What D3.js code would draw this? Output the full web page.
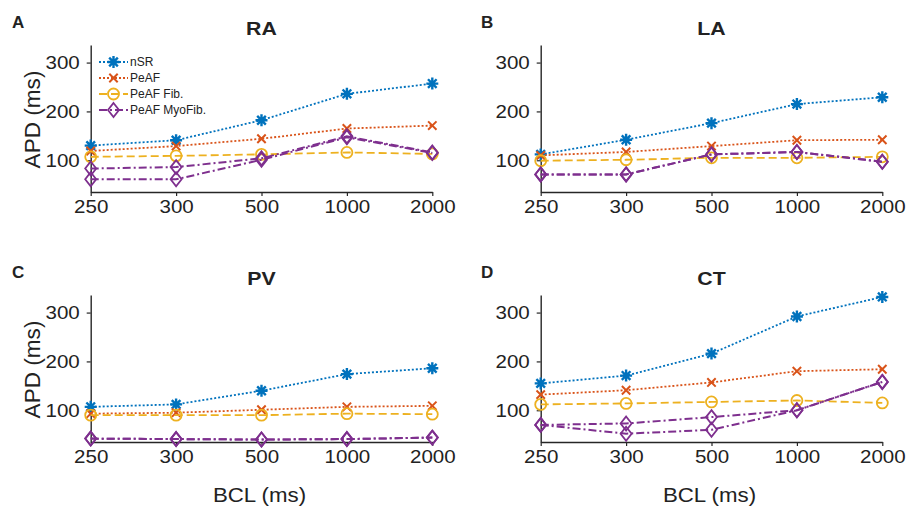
<!DOCTYPE html>
<html>
<head>
<meta charset="utf-8">
<script src="https://cdn.jsdelivr.net/npm/d3@7"></script>
<style>
  body { margin: 0; background: #fff; }
  svg { display: block; }
  text { font-family: "Liberation Sans", Arial, Helvetica, sans-serif; fill: #222; }
</style>
</head>
<body>
<svg id="chart" width="907" height="506"></svg>
<script>
// Basic cycle lengths (categorical x axis) and APD ticks
const bcl = ["250", "300", "500", "1000", "2000"];
const yTickValues = [100, 200, 300];
const regions = ["RA", "LA", "PV", "CT"];
const panelLetters = ["A", "B", "C", "D"];
const seriesNames = ["nSR", "PeAF", "PeAF Fib.", "PeAF MyoFib."];

// APD (ms) per region, rows in the order RA, LA, PV, CT; one value per BCL
const apdNSR = [
  [130, 141, 182, 236, 257],
  [112, 142, 176, 215, 229],
  [107, 112, 140, 174, 186],
  [155, 171, 216, 292, 332]
];
const apdPeAF = [
  [119, 129, 144, 165, 171],
  [110, 117, 129, 141, 142],
  [93, 95, 101, 107, 109],
  [132, 141, 157, 180, 184]
];
const apdFib = [
  [107, 109, 112, 116, 113],
  [99, 101, 105, 105, 107],
  [90, 90, 90, 93, 92],
  [112, 114, 117, 120, 115]
];
const apdMyoFibA = [
  [83, 86, 104, 149, 116],
  [71, 71, 112, 117, 97],
  [42, 41, 40, 41, 44],
  [70, 73, 86, 100, 158]
];
const apdMyoFibB = [
  [61, 61, 101, 147, 115],
  [71, 71, 112, 117, 97],
  [42, 41, 40, 41, 44],
  [70, 52, 60, 100, 158]
];

const colors = { nSR: "#0072BD", PeAF: "#D95319", Fib: "#EDB120", Myo: "#7E2F8E" };
const styles = [
  { key: "nSR", color: colors.nSR, dash: "2,2", marker: "star" },
  { key: "PeAF", color: colors.PeAF, dash: "2,2", marker: "cross" },
  { key: "Fib", color: colors.Fib, dash: "8,4", marker: "circle" },
  { key: "Myo", color: colors.Myo, dash: "8,3,2,3", marker: "diamond" }
];

const svg = d3.select("#chart");

// Panel geometry: two columns, two rows
const colX = [[90.7, 432.3], [540.7, 882.3]];
const rowY = [[192, 45], [442, 295]];

// widen text slightly, keeping its anchor
function stretch(sel, k) {
  sel.each(function () {
    const w = this.getComputedTextLength();
    d3.select(this).attr("textLength", w * k).attr("lengthAdjust", "spacingAndGlyphs");
  });
}

function drawMarker(g, type, x, y, color) {
  if (type === "star") {
    const r = 6;
    const d = r * 0.72;
    g.append("path")
      .attr("d", `M${x - r},${y}L${x + r},${y}M${x},${y - r}L${x},${y + r}` +
                 `M${x - d},${y - d}L${x + d},${y + d}M${x - d},${y + d}L${x + d},${y - d}`)
      .attr("stroke", color).attr("stroke-width", 2.4).attr("fill", "none");
  } else if (type === "cross") {
    const r = 4.2;
    g.append("path")
      .attr("d", `M${x - r},${y - r}L${x + r},${y + r}M${x - r},${y + r}L${x + r},${y - r}`)
      .attr("stroke", color).attr("stroke-width", 2).attr("fill", "none");
  } else if (type === "circle") {
    g.append("circle").attr("cx", x).attr("cy", y).attr("r", 5.5)
      .attr("stroke", color).attr("stroke-width", 1.8).attr("fill", "none");
  } else if (type === "diamond") {
    const w = 5.5, h = 7;
    g.append("path")
      .attr("d", `M${x},${y - h}L${x + w},${y}L${x},${y + h}L${x - w},${y}Z`)
      .attr("stroke", color).attr("stroke-width", 1.8).attr("fill", "none");
  }
}

regions.forEach((region, i) => {
  const col = i % 2, row = Math.floor(i / 2);
  const x = d3.scalePoint().domain(bcl).range(colX[col]);
  const y = d3.scaleLinear().domain([35, 336]).range(rowY[row]);
  const g = svg.append("g");

  // axes
  const yAxis = g.append("g")
    .attr("transform", `translate(${colX[col][0]},0)`)
    .call(d3.axisLeft(y).tickValues(yTickValues).tickSize(4).tickSizeOuter(0).tickPadding(7));
  const xAxis = g.append("g")
    .attr("transform", `translate(0,${rowY[row][0]})`)
    .call(d3.axisBottom(x).tickSize(4).tickSizeOuter(0).tickPadding(4));
  [yAxis, xAxis].forEach(a => {
    a.select(".domain").attr("stroke", "#262626").attr("stroke-width", 1.4);
    a.selectAll(".tick line").attr("stroke", "#262626").attr("stroke-width", 1.2);
    a.selectAll(".tick text").style("font-size", "19px").attr("fill", "#222").call(stretch, 1.08);
  });

  // title and panel letter
  g.append("text")
    .attr("x", (colX[col][0] + colX[col][1]) / 2).attr("y", rowY[row][1] - 10)
    .attr("text-anchor", "middle").style("font-size", "18.5px").style("font-weight", "bold")
    .text(region).call(stretch, 1.15);
  g.append("text")
    .attr("x", col === 0 ? 12 : 481).attr("y", rowY[row][1] - 17)
    .style("font-size", "17px").style("font-weight", "bold")
    .text(panelLetters[i]);

  if (col === 0) {
    g.append("text")
      .attr("transform", `translate(40,${(rowY[row][0] + rowY[row][1]) / 2 + 1}) rotate(-90)`)
      .attr("text-anchor", "middle").style("font-size", "21.5px")
      .text("APD (ms)").call(stretch, 1.05);
  }
  if (row === 1) {
    g.append("text")
      .attr("x", (colX[col][0] + colX[col][1]) / 2 - 2).attr("y", 502)
      .attr("text-anchor", "middle").style("font-size", "21px")
      .text("BCL (ms)").call(stretch, 1.06);
  }

  const seriesData = [
    { style: styles[0], values: apdNSR[i] },
    { style: styles[1], values: apdPeAF[i] },
    { style: styles[2], values: apdFib[i] },
    { style: styles[3], values: apdMyoFibA[i] },
    { style: styles[3], values: apdMyoFibB[i] }
  ];
  const line = d3.line().x((d, j) => x(bcl[j])).y(d => y(d));
  seriesData.forEach(s => {
    g.append("path").datum(s.values)
      .attr("d", line)
      .attr("fill", "none").attr("stroke", s.style.color)
      .attr("stroke-width", s.style.key === "Myo" ? 2 : 1.8)
      .attr("stroke-dasharray", s.style.dash);
    s.values.forEach((v, j) => drawMarker(g, s.style.marker, x(bcl[j]), y(v), s.style.color));
  });

  // legend in the first panel
  if (i === 0) {
    const lg = svg.append("g");
    styles.forEach((st, k) => {
      const ly = 62 + k * 16;
      lg.append("line").attr("x1", 99).attr("x2", 128).attr("y1", ly).attr("y2", ly)
        .attr("stroke", st.color).attr("stroke-width", 1.8).attr("stroke-dasharray", st.dash);
      drawMarker(lg, st.marker, 113.5, ly, st.color);
      lg.append("text").attr("x", 130).attr("y", ly).attr("dy", "0.36em")
        .style("font-size", "12px").text(seriesNames[k]);
    });
  }
});
</script>
</body>
</html>
